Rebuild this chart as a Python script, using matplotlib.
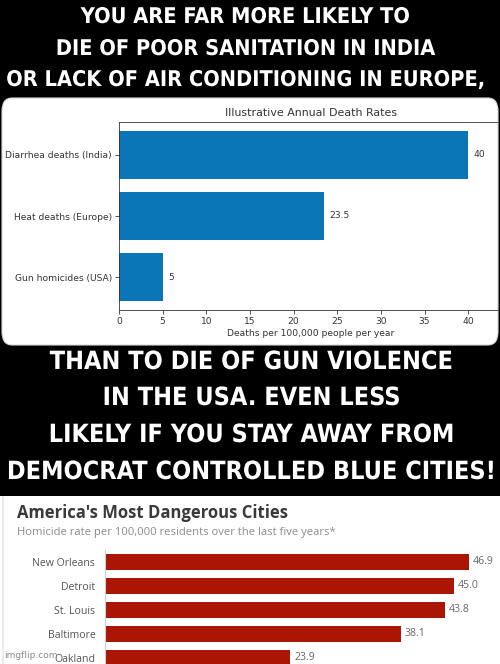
import matplotlib
matplotlib.use("Agg")
import matplotlib.pyplot as plt
import matplotlib.patheffects as pe
from matplotlib import font_manager
from matplotlib.patches import FancyBboxPatch, Rectangle

# data
death_causes = ["Gun homicides (USA)", "Heat deaths (Europe)", "Diarrhea deaths (India)"]
death_rates = [5, 23.5, 40]
death_labels = ["5", "23.5", "40"]

cities = ["New Orleans", "Detroit", "St. Louis", "Baltimore", "Oakland"]
homicide_rates = [46.9, 45.0, 43.8, 38.1, 23.9]

top_text = ["YOU ARE FAR MORE LIKELY TO",
            "DIE OF POOR SANITATION IN INDIA",
            "OR LACK OF AIR CONDITIONING IN EUROPE,"]
mid_text = ["THAN TO DIE OF GUN VIOLENCE",
            "IN THE USA. EVEN LESS",
            "LIKELY IF YOU STAY AWAY FROM",
            "DEMOCRAT CONTROLLED BLUE CITIES!"]

W, H = 500, 664
fig = plt.figure(figsize=(W / 100, H / 100), dpi=100, facecolor="black")


def fx(x):
    return x / W


def fy(y):
    return 1 - y / H


# pick a narrow bold face for the caption (Impact is not available)
meme_fp = None
for f in font_manager.fontManager.ttflist:
    name = f.fname.lower()
    if ("narrow" in name or "condensed" in name) and "bold" in name and "oblique" not in name \
            and "italic" not in name:
        meme_fp = font_manager.FontProperties(fname=f.fname)
        break
if meme_fp is None:
    meme_fp = font_manager.FontProperties(family="DejaVu Sans", weight="bold")

# white panels
fig.patches.append(FancyBboxPatch((fx(2), fy(345)), fx(496), fy(98) - fy(345),
                                  boxstyle="round,pad=0,rounding_size=0.02",
                                  transform=fig.transFigure, facecolor="white",
                                  edgecolor="#d8d8d8", lw=0.8, zorder=-5))
fig.patches.append(Rectangle((0, 0), 1, fy(496), transform=fig.transFigure,
                             facecolor="white", edgecolor="none", zorder=-5))
fig.patches.append(Rectangle((fx(2), 0), fx(2), fy(496), transform=fig.transFigure,
                             facecolor="#e9ecef", edgecolor="none", zorder=-4))

# meme captions, sized so the widest line spans the same width as in the picture
renderer = fig.canvas.get_renderer()
stroke = [pe.withStroke(linewidth=2.2, foreground="black")]


def caption(lines, ys, xc, widest_px):
    texts = [fig.text(xc, fy(y), line, fontproperties=meme_fp, fontsize=20,
                      color="white", ha="center", va="center", path_effects=stroke)
             for line, y in zip(lines, ys)]
    wmax = max(t.get_window_extent(renderer).width for t in texts)
    size = 20 * widest_px / wmax
    for t in texts:
        t.set_fontsize(size)


caption(top_text, [17, 49, 80], 0.49, 478)
caption(mid_text, [362, 398, 435, 472], 0.504, 488)

# chart 1: illustrative death rates
scale1 = 8.73
ink = "#333333"
ax1 = fig.add_axes([fx(119), fy(310), 44 * scale1 / W, fy(122) - fy(310)])
ax1.set_facecolor("none")
ax1.barh(death_causes, death_rates, height=0.8, color="#0a76b7")
for v, lab, i in zip(death_rates, death_labels, range(len(death_rates))):
    ax1.text(v + 0.6, i, lab, va="center", ha="left", fontsize=6.6, color=ink)
ax1.set_xlim(0, 44)
ax1.set_xticks(range(0, 45, 5))
ax1.tick_params(labelsize=6.6, length=3, width=0.6, pad=2, labelcolor=ink, color=ink)
ax1.set_xlabel("Deaths per 100,000 people per year", fontsize=6.6, labelpad=2, color=ink)
ax1.set_title("Illustrative Annual Death Rates", fontsize=7.9, pad=4, color=ink)
for s in ax1.spines.values():
    s.set_linewidth(0.6)
    s.set_color(ink)

# chart 2: dangerous cities
fig.text(fx(17), fy(513), "America's Most Dangerous Cities", family="Open Sans",
         weight="bold", fontsize=12, color="#3a3a3a", va="center", ha="left")
fig.text(fx(17), fy(532), "Homicide rate per 100,000 residents over the last five years*",
         family="Open Sans", fontsize=8.1, color="#8c8c8c", va="center", ha="left")

scale2 = 7.76
ax2 = fig.add_axes([fx(105), 0, 50 * scale2 / W, fy(550)])
ax2.set_facecolor("none")
ypos = list(range(len(cities)))
ax2.barh(ypos, homicide_rates, height=0.65, color="#ab1503")
for i, v in enumerate(homicide_rates):
    ax2.text(v + 0.5, i, f"{v:.1f}", va="center", ha="left", family="Open Sans",
             fontsize=7.6, color="#666666")
ax2.set_ylim(4.25, -0.5)
ax2.set_xlim(0, 50)
ax2.set_yticks(ypos)
ax2.set_yticklabels(cities, family="Open Sans", fontsize=7.6, color="#555555")
ax2.tick_params(axis="y", length=0, pad=7)
ax2.set_xticks([])
for k in ["top", "right", "bottom"]:
    ax2.spines[k].set_visible(False)
ax2.spines["left"].set_color("#cfcfcf")
ax2.spines["left"].set_linewidth(0.8)

fig.text(fx(4), fy(656), "imgflip.com", family="DejaVu Sans", fontsize=6.5,
         color="#8a8a8a", va="center", ha="left")

fig.savefig("out.png", dpi=100, facecolor="black")
